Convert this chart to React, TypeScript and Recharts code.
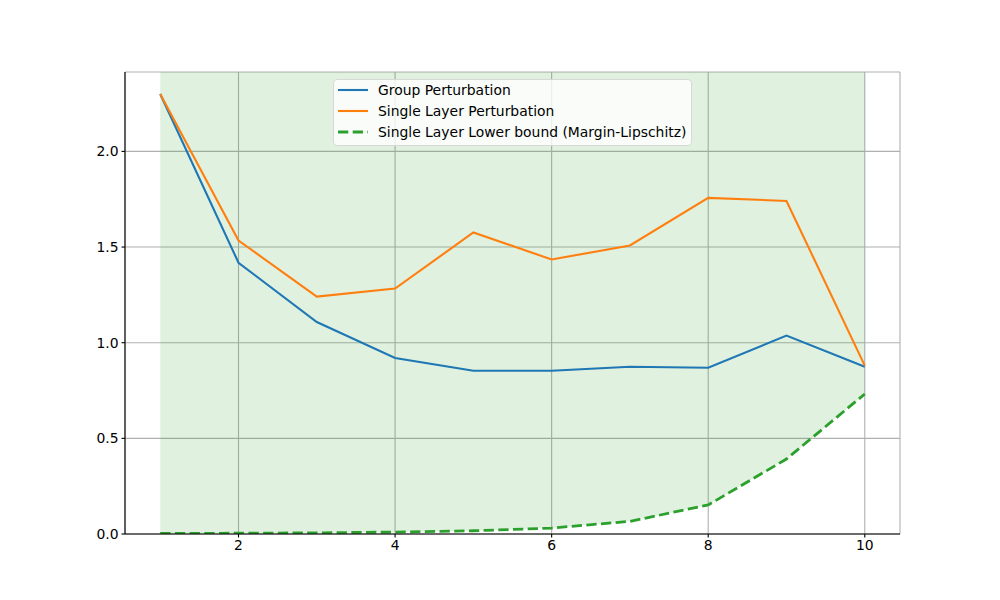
import {
  ComposedChart,
  Line,
  Area,
  XAxis,
  YAxis,
  CartesianGrid,
} from "recharts";

const layers = [1, 2, 3, 4, 5, 6, 7, 8, 9, 10];
const groupPerturbation = [2.3, 1.418, 1.108, 0.92, 0.853, 0.853, 0.874, 0.869, 1.037, 0.874];
const singlePerturbation = [2.3, 1.534, 1.241, 1.283, 1.576, 1.435, 1.508, 1.757, 1.741, 0.88];
const lowerBound = [0.003, 0.004, 0.006, 0.01, 0.017, 0.031, 0.066, 0.152, 0.392, 0.732];

const xTicks = [2, 4, 6, 8, 10];
const yTicks = [0, 0.5, 1.0, 1.5, 2.0];
const Y_MAX = 2.415;

const data = layers.map((x, i) => ({
  x,
  group: groupPerturbation[i],
  single: singlePerturbation[i],
  lower: lowerBound[i],
  band: [lowerBound[i], Y_MAX],
}));

const FONT = "'DejaVu Sans', sans-serif";

const legendItems = [
  { label: "Group Perturbation", color: "#1f77b4", dash: undefined },
  { label: "Single Layer Perturbation", color: "#ff7f0e", dash: undefined },
  { label: "Single Layer Lower bound (Margin-Lipschitz)", color: "#2ca02c", dash: "10.3 4.4" },
];

function LegendBox() {
  return (
    <div
      style={{
        position: "absolute",
        left: 333,
        top: 79,
        width: 359,
        height: 67,
        background: "rgba(255,255,255,0.8)",
        border: "1px solid #d8d8d8",
        borderRadius: 4,
        boxSizing: "border-box",
        padding: "0 0 0 4px",
        fontFamily: FONT,
        fontSize: 13.9,
        color: "#000",
      }}
    >
      {legendItems.map((it) => (
        <div key={it.label} style={{ display: "flex", alignItems: "center", height: 20.8 }}>
          <svg width={30} height={10} style={{ marginRight: 10 }}>
            <line
              x1={0}
              y1={5}
              x2={30}
              y2={5}
              stroke={it.color}
              strokeWidth={it.dash ? 2.8 : 2.1}
              strokeDasharray={it.dash}
            />
          </svg>
          <span>{it.label}</span>
        </div>
      ))}
    </div>
  );
}

export default function App() {
  return (
    <div style={{ position: "absolute", left: 0, top: 0, width: 1000, height: 600, background: "#fff" }}>
      <ComposedChart
        width={1000}
        height={600}
        data={data}
        margin={{ top: 72, right: 100, bottom: 36, left: 0 }}
      >
        <CartesianGrid stroke="#b0b0b0" strokeWidth={1.1} />
        <Area
          dataKey="band"
          stroke="none"
          fill="#2ca02c"
          fillOpacity={0.15}
          isAnimationActive={false}
          activeDot={false}
        />
        <XAxis
          dataKey="x"
          type="number"
          domain={[0.55, 10.45]}
          ticks={xTicks}
          height={30}
          axisLine={{ stroke: "#000", strokeWidth: 1.1 }}
          tickLine={{ stroke: "#000", strokeWidth: 1.1 }}
          tickSize={3.5}
          tick={{ fill: "#000", fontSize: 13.9, fontFamily: FONT }}
          tickMargin={3}
          allowDataOverflow
        />
        <XAxis
          xAxisId="top"
          orientation="top"
          dataKey="x"
          type="number"
          domain={[0.55, 10.45]}
          height={0}
          tick={false}
          tickLine={false}
          axisLine={{ stroke: "#000", strokeWidth: 1.1 }}
        />
        <YAxis
          domain={[0, Y_MAX]}
          ticks={yTicks}
          width={125}
          axisLine={{ stroke: "#000", strokeWidth: 1.1 }}
          tickLine={{ stroke: "#000", strokeWidth: 1.1 }}
          tickSize={3.5}
          tickMargin={3}
          tickFormatter={(v: number) => v.toFixed(1)}
          tick={{ fill: "#000", fontSize: 13.9, fontFamily: FONT }}
          allowDataOverflow
        />
        <YAxis
          yAxisId="right"
          orientation="right"
          domain={[0, Y_MAX]}
          width={0}
          tick={false}
          tickLine={false}
          axisLine={{ stroke: "#000", strokeWidth: 1.1 }}
        />
        <Line
          dataKey="group"
          stroke="#1f77b4"
          strokeWidth={2.1}
          dot={false}
          activeDot={false}
          isAnimationActive={false}
        />
        <Line
          dataKey="single"
          stroke="#ff7f0e"
          strokeWidth={2.1}
          dot={false}
          activeDot={false}
          isAnimationActive={false}
        />
        <Line
          dataKey="lower"
          stroke="#2ca02c"
          strokeWidth={2.8}
          strokeDasharray="10.3 4.4"
          dot={false}
          activeDot={false}
          isAnimationActive={false}
        />
      </ComposedChart>
      <LegendBox />
    </div>
  );
}
